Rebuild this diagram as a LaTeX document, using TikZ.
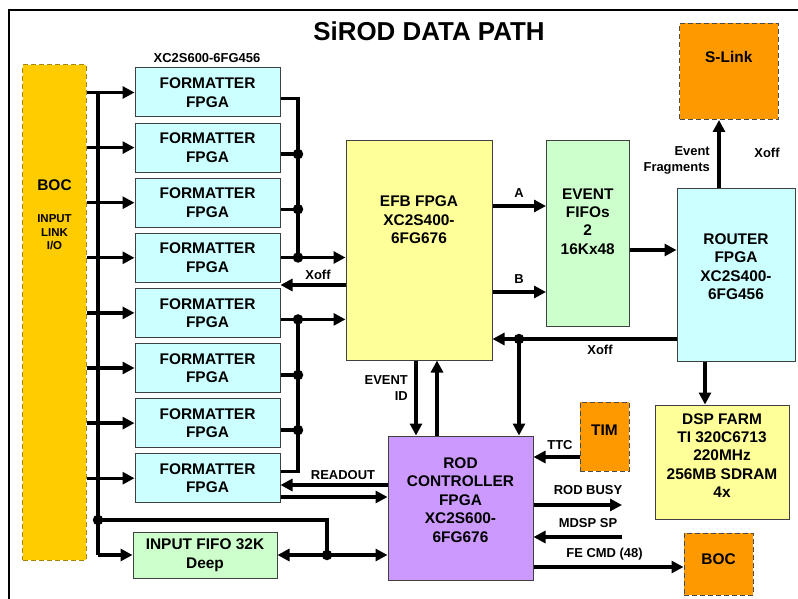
\documentclass[tikz,border=0pt]{standalone}
\usepackage{fontspec}
\setmainfont{Liberation Sans}
\usetikzlibrary{arrows.meta,calc}
\definecolor{cyanbox}{HTML}{CCFFFF}
\definecolor{yelbox}{HTML}{FFFF99}
\definecolor{grnbox}{HTML}{CCFFCC}
\definecolor{purbox}{HTML}{CC99FF}
\definecolor{goldbox}{HTML}{FFCC00}
\definecolor{orngbox}{HTML}{FF9900}
\definecolor{goldedge}{HTML}{A88400}
\tikzset{
  blk/.style 2 args={draw=black!75, line width=1bp, minimum width=#1bp, minimum height=#2bp, inner sep=0pt},
  dashblk/.style 2 args={draw=black!70, line width=1bp, dash pattern=on 5bp off 3bp, minimum width=#1bp, minimum height=#2bp, inner sep=0pt},
  btext/.style={font=\bfseries\fontsize{15.5}{18.5}\selectfont, align=center, inner sep=0pt},
  lbl/.style={font=\bfseries\fontsize{13}{15.5}\selectfont, align=center, inner sep=0pt},
  wire/.style={line width=3.3bp},
  arr/.style={wire, -{Triangle[length=12bp,width=12bp]}},
  dotn/.style={circle, fill=black, minimum size=10.5bp, inner sep=0pt},
}
\begin{document}
\begin{tikzpicture}[x=1bp,y=-1bp]
\useasboundingbox (0,0) rectangle (798,599);
% frame
\draw[line width=2bp] (9,600) -- (9,10) -- (800,10);
\node[font=\bfseries\fontsize{26}{30}\selectfont, inner sep=0pt] (title) at (429,31) {SiROD DATA PATH};

% BOC input
\node[dashblk={63}{495}, fill=goldbox, draw=goldedge] (boc) at (54.5,312.5) {};
\node[btext] (boct) at (54.5,185) {BOC};
\node[font=\bfseries\fontsize{11.5}{13.5}\selectfont, align=center, inner sep=0pt] (boci) at (54.5,232.5) {INPUT\\LINK\\I/O};

% formatters
\node[lbl] (fmtlbl) at (207,58) {XC2S600-6FG456};
\foreach \i in {1,...,8} {
  \node[blk={145}{49}, fill=cyanbox, btext] (f\i) at (207.5,{92.5+55.1*(\i-1)}) {FORMATTER\\FPGA};
}

% input fifo
\node[blk={144}{46}, fill=grnbox, btext] (fifo) at (205,555) {INPUT FIFO 32K\\Deep};

% EFB
\node[blk={146}{219.5}, fill=yelbox] (efb) at (419,250.25) {};
\node[btext] (efbt) at (419,220) {EFB FPGA\\XC2S400-\\6FG676};

% Event FIFOs
\node[blk={82.5}{185.5}, fill=grnbox] (evf) at (587.75,233.25) {};
\node[btext] (evft) at (587.75,221.5) {EVENT\\FIFOs\\2\\16Kx48};

% Router
\node[blk={118}{172}, fill=cyanbox] (router) at (736,275) {};
\node[btext] (routert) at (736,266.5) {ROUTER\\FPGA\\XC2S400-\\6FG456};

% S-Link
\node[dashblk={98.5}{96}, fill=orngbox] (slink) at (728.75,71.5) {};
\node[btext] (slinkt) at (728.75,57) {S-Link};

% DSP farm
\node[blk={134}{114}, fill=yelbox] (dsp) at (722,462) {};
\node[btext] (dspt) at (722,455.5) {DSP FARM\\TI 320C6713\\220MHz\\256MB SDRAM\\4x};

% ROD controller
\node[blk={145}{144}, fill=purbox] (rod) at (460.5,508) {};
\node[btext] (rodt) at (460.5,500) {ROD\\CONTROLLER\\FPGA\\XC2S600-\\6FG676};

% TIM
\node[dashblk={49}{69}, fill=orngbox] (tim) at (604.5,436.5) {};
\node[btext] (timt) at (604.5,430) {TIM};

% BOC out
\node[dashblk={69}{62}, fill=orngbox] (boc2) at (718.5,564) {};
\node[btext] (boc2t) at (718.5,559) {BOC};

% ---- connectors ----
% bus from BOC
\coordinate (busTop) at (98,92.5);
\coordinate (busBot) at (98,555);
\coordinate (busJ) at (98,520);
\coordinate (fifoJ) at (327,555);
\draw[wire] (busTop) -- (busBot);
\foreach \i in {1,...,8} {
  \draw[arr] (boc.east |- f\i.west) -- (f\i.west);
}
\draw[arr] (busBot) -- (fifo.west);
\draw[wire] (busJ) -| (fifoJ);
\node[dotn] (dj1) at (busJ) {};
\node[dotn] (dj2) at (fifoJ) {};
\draw[arr] (fifoJ) -- (fifo.east);
\draw[arr] (fifoJ) -- (rod.west |- fifoJ);

% formatter outputs, upper group
\coordinate (o1) at ($(f1.east)+(0,6)$);
\coordinate (o2) at ($(f2.east)+(0,6.5)$);
\coordinate (o3) at ($(f3.east)+(0,6.5)$);
\coordinate (cu) at (298,257.5);
\draw[wire] (o1) -| (cu);
\draw[wire] (o2) -- (o2 -| cu);
\draw[wire] (o3) -- (o3 -| cu);
\node[dotn] (du2) at (o2 -| cu) {};
\node[dotn] (du3) at (o3 -| cu) {};
\node[dotn] (du4) at (cu) {};
\draw[arr] (f4.east |- cu) -- (efb.west |- cu);

% formatter outputs, lower group
\coordinate (o5) at ($(f5.east)+(0,6.5)$);
\coordinate (o6) at ($(f6.east)+(0,7)$);
\coordinate (o7) at ($(f7.east)+(0,7)$);
\coordinate (o8) at ($(f8.east)+(0,-7)$);
\coordinate (cl) at (298,0);
\draw[wire] (o8) -| (o5 -| cl);
\draw[wire] (o6) -- (o6 -| cl);
\draw[wire] (o7) -- (o7 -| cl);
\node[dotn] (dl5) at (o5 -| cl) {};
\node[dotn] (dl6) at (o6 -| cl) {};
\node[dotn] (dl7) at (o7 -| cl) {};
\draw[arr] (o5) -- (efb.west |- o5);

% Xoff EFB -> formatters
\draw[arr] (efb.west |- 0,285) -- (f4.east |- 0,285);
\node[lbl] (xoff1) at (318,275) {Xoff};

% EFB -> Event FIFOs
\draw[arr] (efb.east |- 0,206) -- (evf.west |- 0,206);
\node[lbl] (la) at (519,193) {A};
\draw[arr] (efb.east |- 0,292) -- (evf.west |- 0,292);
\node[lbl] (lb) at (519,279) {B};

% Event FIFOs -> Router
\draw[arr] (evf.east |- 0,250) -- (router.west |- 0,250);

% Router -> S-Link
\draw[arr] (router.north -| 719,0) -- (slink.south -| 719,0);
\node[lbl, align=right, anchor=east] (evfr) at (710,160.5) {Event\\Fragments};
\node[lbl] (xoff2) at (767,153) {Xoff};

% Xoff router -> EFB and ROD
\coordinate (xj) at (519,339);
\draw[arr] (router.west |- xj) -- (efb.east |- xj);
\node[dotn] (dxj) at (xj) {};
\draw[arr] (xj) -- (rod.north -| xj);
\node[lbl] (xoff3) at (600,350) {Xoff};

% Router -> DSP
\draw[arr] (router.south -| 705,0) -- (dsp.north -| 705,0);

% EFB <-> ROD
\draw[arr] (efb.south -| 416,0) -- (rod.north -| 416,0);
\draw[arr] (rod.north -| 437,0) -- (efb.south -| 437,0);
\node[lbl, align=right, anchor=east] (evid) at (408,388) {EVENT\\ID};

% TIM -> ROD
\draw[arr] (tim.west |- 0,457) -- (rod.east |- 0,457);
\node[lbl] (ttc) at (560,445) {TTC};

% ROD busy / MDSP SP
\coordinate (busyEnd) at (622,505);
\draw[arr] (rod.east |- busyEnd) -- (busyEnd);
\node[lbl] (rbusy) at (588,490) {ROD BUSY};
\coordinate (mdspStart) at (622,537);
\draw[arr] (mdspStart) -- (rod.east |- mdspStart);
\node[lbl] (mdsp) at (588,523) {MDSP SP};

% FE CMD -> BOC
\draw[arr] (rod.east |- 0,567) -- (boc2.west |- 0,567);
\node[lbl] (fecmd) at (604.5,554) {FE CMD (48)};

% READOUT
\draw[arr] (rod.west |- 0,485) -- (f8.east |- 0,485);
\node[lbl] (readout) at (343,475) {READOUT};
\draw[arr] (f8.east |- 0,497) -- (rod.west |- 0,497);
\end{tikzpicture}
\end{document}
